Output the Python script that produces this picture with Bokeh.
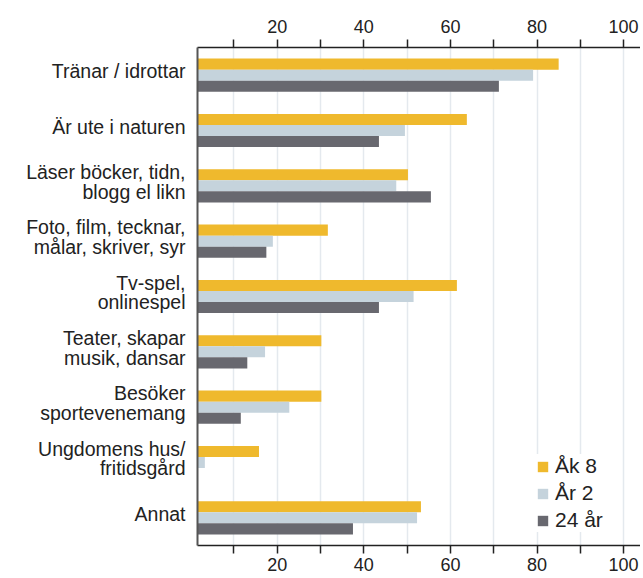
from bokeh.plotting import figure
from bokeh.layouts import row
from bokeh.models import (FactorRange, Range1d, LinearAxis, FixedTicker, ColumnDataSource,
                          Legend, LegendItem)
from bokeh.transform import dodge
from bokeh.embed import file_html
from bokeh.resources import INLINE

categories = [
    "Tränar / idrottar",
    "Är ute i naturen",
    "Läser böcker, tidn,\nblogg el likn",
    "Foto, film, tecknar,\nmålar, skriver, syr",
    "Tv-spel,\nonlinespel",
    "Teater, skapar\nmusik, dansar",
    "Besöker\nsportevenemang",
    "Ungdomens hus/\nfritidsgård",
    "Annat",
]
ak8 = [85.0, 63.8, 50.2, 31.7, 61.5, 30.2, 30.2, 15.8, 53.2]
ar2 = [79.1, 49.5, 47.5, 19.0, 51.5, 17.2, 22.8, 3.3, 52.3]
ar24 = [71.2, 43.5, 55.5, 17.5, 43.5, 13.1, 11.6, float("nan"), 37.5]
series_names = ["Åk 8", "År 2", "24 år"]
colors = ["#efb92d", "#c5d3dc", "#68686f"]
ticks = [10, 20, 30, 40, 50, 60, 70, 80, 90, 100]

src = ColumnDataSource(dict(cat=categories, ak8=ak8, ar2=ar2, ar24=ar24))

FONT = "Liberation Sans"
TOP, BOTTOM, H = 47, 30, 575

yr = FactorRange(factors=list(reversed(categories)))

# ---- main chart
p = figure(width=451, height=H, output_backend="svg", toolbar_location=None,
           y_range=yr, x_range=Range1d(1.6, 103.9),
           min_border_left=8, min_border_right=0, min_border_top=TOP, min_border_bottom=BOTTOM,
           x_axis_location="below")
p.outline_line_color = None

renderers = []
for key, off, col in zip(["ak8", "ar2", "ar24"], [0.2, 0.0, -0.2], colors):
    r = p.hbar(y=dodge("cat", off, range=yr), right=key, left=0, height=0.2,
               source=src, fill_color=col, line_color=None)
    renderers.append(r)

labels_override = {t: ("" if t % 20 else str(t)) for t in ticks}

def style_x(ax, standoff):
    ax.ticker = FixedTicker(ticks=ticks)
    ax.major_label_overrides = labels_override
    ax.major_tick_out = 8
    ax.major_tick_in = 0
    ax.minor_tick_line_color = None
    ax.major_tick_line_color = "#222222"
    ax.major_tick_line_width = 1.5
    ax.axis_line_color = "#222222"
    ax.axis_line_width = 1.5
    ax.major_label_text_font = FONT
    ax.major_label_text_font_size = "18px"
    ax.major_label_text_color = "#222222"
    ax.major_label_standoff = standoff

style_x(p.xaxis[0], 4)
top = LinearAxis()
style_x(top, 7)
p.add_layout(top, "above")

ya = p.yaxis[0]
ya.major_tick_line_color = None
ya.minor_tick_line_color = None
ya.axis_line_color = "#555555"
ya.axis_line_width = 2
ya.major_label_text_color = None
ya.major_label_text_font_size = "1px"
ya.major_label_standoff = 0

p.ygrid.grid_line_color = None
p.xgrid.ticker = FixedTicker(ticks=ticks)
p.xgrid.grid_line_color = "#e4e9ee"
p.xgrid.grid_line_width = 1.5

legend = Legend(items=[LegendItem(label=n, renderers=[r]) for n, r in zip(series_names, renderers)],
                location=(339, 13), orientation="vertical")
legend.label_text_font = FONT
legend.label_text_font_size = "21px"
legend.label_text_color = "#222222"
legend.glyph_width = 13
legend.glyph_height = 13
legend.label_height = 24
legend.spacing = 3
legend.label_standoff = 6
legend.padding = 8
legend.margin = 0
legend.border_line_color = None
legend.background_fill_color = "white"
legend.background_fill_alpha = 1.0
p.add_layout(legend)

# ---- category labels panel (shares the y range)
LINE_H = 19.5
SHIFT = 4
lab_cat, lab_txt, lab_off = [], [], []
for c in categories:
    lines = c.split("\n")
    n = len(lines)
    for i, ln in enumerate(lines):
        lab_cat.append(c)
        lab_txt.append(ln)
        lab_off.append(-((n - 1) / 2 - i) * LINE_H - SHIFT)
lab_src = ColumnDataSource(dict(cat=lab_cat, txt=lab_txt, off=lab_off, x=[1.0] * len(lab_cat)))

lf = figure(width=189, height=H, output_backend="svg", toolbar_location=None,
            y_range=yr, x_range=Range1d(0, 1),
            min_border_left=0, min_border_right=0, min_border_top=TOP, min_border_bottom=BOTTOM,
            x_axis_location=None, y_axis_location=None)
lf.outline_line_color = None
lf.grid.grid_line_color = None
lf.text(x="x", y="cat", text="txt", y_offset="off", x_offset=-4, source=lab_src,
        text_align="right", text_baseline="middle", text_font={"value": FONT},
        text_font_size={"value": "19.5px"}, text_color="#222222")

layout = row(lf, p, spacing=0)
open("out.html", "w").write(file_html(layout, INLINE))
